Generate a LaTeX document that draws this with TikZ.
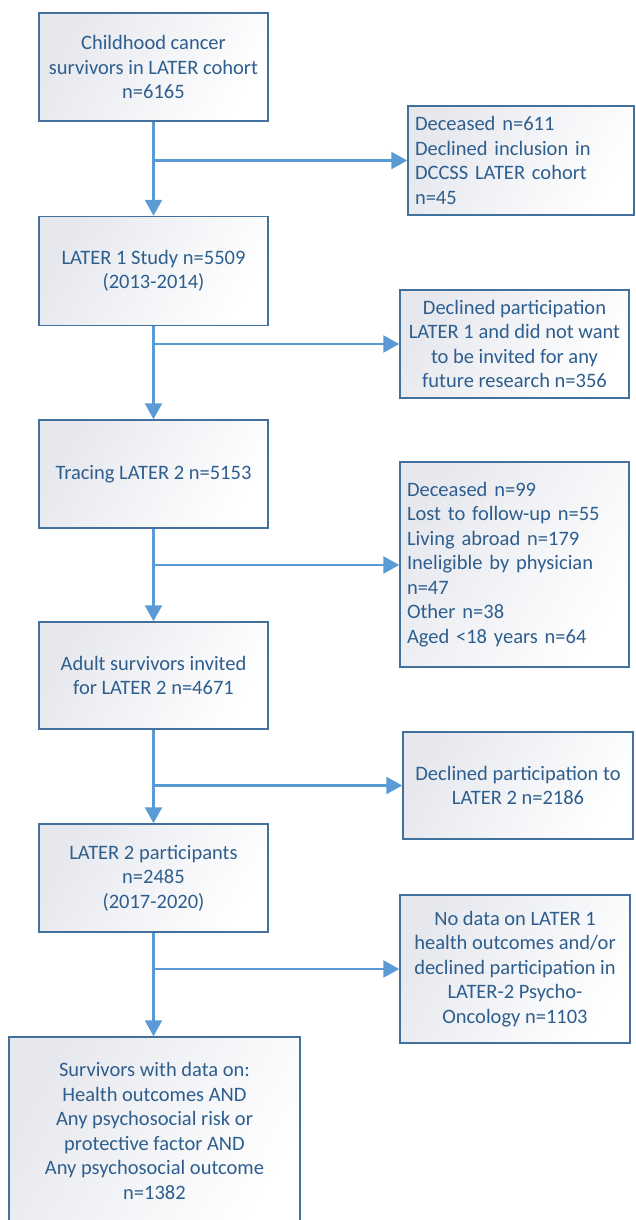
\documentclass[tikz,border=0pt]{standalone}
\usepackage{fontspec}
\setmainfont{Carlito}
\usetikzlibrary{arrows.meta}
\definecolor{boxline}{HTML}{41719C}
\definecolor{boxtext}{HTML}{2E5E8E}
\definecolor{arrowc}{HTML}{5B9BD5}
\definecolor{boxgray}{HTML}{E6E8EE}
\tikzset{
  flowbox/.style={draw=boxline, line width=1.5pt, rectangle, inner sep=0pt,
    left color=boxgray, right color=white, shading angle=60,
    text=boxtext, align=center,
    font=\fontsize{20.5}{24.5}\selectfont},
  leftbox/.style={flowbox, align=left},
  flowarrow/.style={draw=arrowc, line width=2.5pt,
    -{Triangle[length=16pt,width=17pt]}},
}
\begin{document}
\begin{tikzpicture}[x=1pt,y=-1pt]
\useasboundingbox (0,0) rectangle (635,1220);
\node[flowbox, minimum width=229pt, minimum height=108pt] (b1) at (153.5,67)
  {Childhood cancer\\survivors in LATER cohort\\n=6165};
\node[leftbox, minimum width=226pt, minimum height=109pt, text width=212pt] (b2) at (521,160.5)
  {Deceased n=611\\Declined inclusion in\\DCCSS LATER cohort\\n=45};
\node[flowbox, minimum width=229pt, minimum height=109pt] (b3) at (153.5,271)
  {LATER 1 Study n=5509\\(2013-2014)};
\node[flowbox, minimum width=229pt, minimum height=108pt] (b4) at (514.5,344)
  {Declined participation\\LATER 1 and did not want\\to be invited for any\\future research n=356};
\node[flowbox, minimum width=229pt, minimum height=108pt] (b5) at (153.5,474)
  {Tracing LATER 2 n=5153};
\node[leftbox, minimum width=229pt, minimum height=205pt, text width=215pt] (b6) at (514.5,564.5)
  {Deceased n=99\\Lost to follow-up n=55\\Living abroad n=179\\Ineligible by physician\\n=47\\Other n=38\\Aged <18 years n=64};
\node[flowbox, minimum width=229pt, minimum height=107pt] (b7) at (153.5,675.5)
  {Adult survivors invited\\for LATER 2 n=4671};
\node[flowbox, minimum width=230pt, minimum height=107pt] (b8) at (518,785.5)
  {Declined participation to\\LATER 2 n=2186};
\node[flowbox, minimum width=229pt, minimum height=108pt] (b9) at (153.5,878)
  {LATER 2 participants\\n=2485\\(2017-2020)};
\node[flowbox, minimum width=230pt, minimum height=148pt] (b10) at (515,969)
  {No data on LATER 1\\health outcomes and/or\\declined participation in\\LATER-2 Psycho-\\Oncology n=1103};
\node[flowbox, minimum width=291pt, minimum height=188pt] (b11) at (154.5,1131)
  {Survivors with data on:\\Health outcomes AND\\Any psychosocial risk or\\protective factor AND\\Any psychosocial outcome\\n=1382};
% spine
\draw[flowarrow] (b1.south) -- (b3.north);
\draw[flowarrow] (b3.south) -- (b5.north);
\draw[flowarrow] (b5.south) -- (b7.north);
\draw[flowarrow] (b7.south) -- (b9.north);
\draw[flowarrow] (b9.south) -- (b11.north -| b9.south);
% branches
\coordinate (j1) at (153.5,160.5);
\coordinate (j2) at (153.5,344);
\coordinate (j3) at (153.5,565);
\coordinate (j4) at (153.5,785.5);
\coordinate (j5) at (153.5,969);
\draw[flowarrow] (j1) -- (b2.west);
\draw[flowarrow] (j2) -- (b4.west);
\draw[flowarrow] (j3) -- (j3 -| b6.west);
\draw[flowarrow] (j4) -- (b8.west);
\draw[flowarrow] (j5) -- (b10.west);
\end{tikzpicture}
\end{document}
